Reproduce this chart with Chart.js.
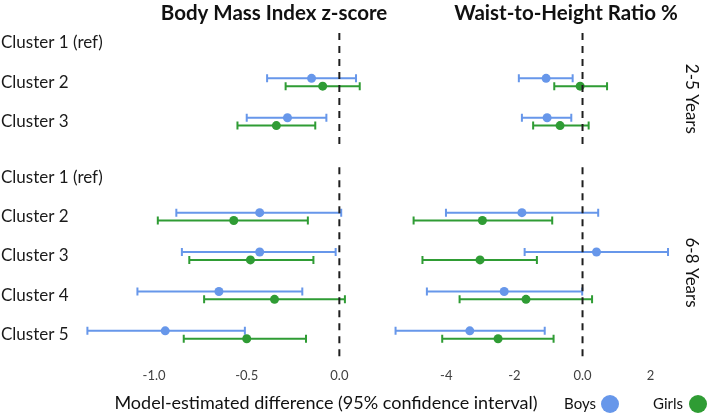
<!DOCTYPE html>
<html>
<head>
<meta charset="utf-8">
<script src="https://cdn.jsdelivr.net/npm/chart.js@4.4.0/dist/chart.umd.min.js"></script>
<style>
  html, body { margin: 0; padding: 0; background: #fff; }
  #wrap { position: relative; width: 709px; height: 415px; }
  #wrap canvas { position: absolute; left: 0; top: 0; }
</style>
</head>
<body>
<div id="wrap">
  <canvas id="bmiChart" width="709" height="415"></canvas>
  <canvas id="whtrChart" width="709" height="415"></canvas>
</div>
<script>
// --- data ---
const ageGroups = ['2-5 Years', '6-8 Years'];
const clusterNames = [
    ['Cluster 1 (ref)', 'Cluster 2', 'Cluster 3'],
    ['Cluster 1 (ref)', 'Cluster 2', 'Cluster 3', 'Cluster 4', 'Cluster 5']
];
const seriesNames = ['Boys', 'Girls'];

// Body Mass Index z-score (null = reference cluster)
const bmiBoysEst  = [null, -0.15, -0.28, null, -0.43, -0.43, -0.65, -0.94];
const bmiBoysLo   = [null, -0.39, -0.50, null, -0.88, -0.85, -1.09, -1.36];
const bmiBoysHi   = [null,  0.09, -0.07, null,  0.01, -0.02, -0.20, -0.51];
const bmiGirlsEst = [null, -0.09, -0.34, null, -0.57, -0.48, -0.35, -0.50];
const bmiGirlsLo  = [null, -0.29, -0.55, null, -0.98, -0.81, -0.73, -0.84];
const bmiGirlsHi  = [null,  0.11, -0.13, null, -0.17, -0.14,  0.03, -0.18];

// Waist-to-Height Ratio %
const whtrBoysEst  = [null, -1.07, -1.04, null, -1.78,  0.41, -2.30, -3.31];
const whtrBoysLo   = [null, -1.87, -1.78, null, -4.01, -1.70, -4.57, -5.49];
const whtrBoysHi   = [null, -0.29, -0.33, null,  0.46,  2.51, -0.01, -1.11];
const whtrGirlsEst = [null, -0.07, -0.66, null, -2.94, -3.01, -1.66, -2.48];
const whtrGirlsLo  = [null, -0.83, -1.45, null, -4.96, -4.70, -3.61, -4.12];
const whtrGirlsHi  = [null,  0.72,  0.18, null, -0.89, -1.34,  0.28, -0.85];

// tick labels
const bmiTicks = [-1.0, -0.5, 0.0];
const whtrTicks = [-4, -2, 0, 2];

// --- layout helpers ---
const BOYS_COLOR = '#6797ea';
const GIRLS_COLOR = '#2f9c34';
const FONT = 'Lato, "Open Sans", sans-serif';
const GROUP_GAP = 0.41;

const rows = [];
let pos = 0;
clusterNames.forEach((names, g) => {
    names.forEach(n => { rows.push({ label: n, y: pos, group: g }); pos += 1; });
    pos += GROUP_GAP;
});

function pointData(est, lo, hi, shift) {
    return rows
        .map((r, i) => est[i] === null ? null : { x: est[i], y: r.y + shift, lo: lo[i], hi: hi[i] })
        .filter(Boolean);
}

function zeroLines() {
    return ageGroups.map((g, gi) => {
        const ys = rows.filter(r => r.group === gi).map(r => r.y);
        return {
            label: 'zero ' + g,
            data: [{ x: 0, y: ys[0] - 0.25 }, { x: 0, y: ys[ys.length - 1] + 0.63 }],
            showLine: true,
            pointRadius: 0,
            borderColor: '#1e1e1e',
            borderWidth: 2,
            borderDash: [7, 6],
            order: 0
        };
    });
}

function series(name, color, est, lo, hi, shift) {
    return {
        label: name,
        isSeries: true,
        data: pointData(est, lo, hi, shift),
        backgroundColor: color,
        borderColor: color,
        pointRadius: 4.5,
        pointBorderWidth: 0,
        barWidth: 2,
        order: 1
    };
}

// horizontal confidence intervals with caps
const errorBars = {
    id: 'errorBars',
    beforeDatasetsDraw(chart) {
        const ctx = chart.ctx;
        const xs = chart.scales.x;
        chart.data.datasets.forEach((ds, di) => {
            if (!ds.isSeries) return;
            const meta = chart.getDatasetMeta(di);
            ctx.save();
            ctx.strokeStyle = ds.borderColor;
            ctx.lineWidth = ds.barWidth;
            meta.data.forEach((el, i) => {
                const raw = ds.data[i];
                const x1 = xs.getPixelForValue(raw.lo);
                const x2 = xs.getPixelForValue(raw.hi);
                const y = el.y;
                ctx.beginPath();
                ctx.moveTo(x1, y); ctx.lineTo(x2, y);
                ctx.moveTo(x1, y - 4); ctx.lineTo(x1, y + 4);
                ctx.moveTo(x2, y - 4); ctx.lineTo(x2, y + 4);
                ctx.stroke();
            });
            ctx.restore();
        });
    }
};

// titles, row labels, group labels, axis title and legend
const panelText = {
    id: 'panelText',
    afterDraw(chart, args, opts) {
        const ctx = chart.ctx;
        const ys = chart.scales.y;
        ctx.save();
        ctx.fillStyle = '#111';
        ctx.textAlign = 'center';
        ctx.textBaseline = 'middle';
        ctx.font = 'bold 20.5px ' + FONT;
        ctx.fillText(opts.title, opts.titleX, 13);

        if (opts.rowLabels) {
            ctx.textAlign = 'left';
            ctx.font = '17px ' + FONT;
            ctx.fillStyle = '#1a1a1a';
            rows.forEach(r => ctx.fillText(r.label, 1, ys.getPixelForValue(r.y)));
        }

        if (opts.extras) {
            ctx.textAlign = 'center';
            ctx.fillStyle = '#111';
            ctx.font = '17px ' + FONT;
            ageGroups.forEach((g, gi) => {
                const gy = rows.filter(r => r.group === gi).map(r => r.y);
                const mid = (gy[0] + gy[gy.length - 1]) / 2 + 0.42;
                ctx.save();
                ctx.translate(691, ys.getPixelForValue(mid));
                ctx.rotate(Math.PI / 2);
                ctx.fillText(g, 0, 0);
                ctx.restore();
            });

            ctx.font = '18px ' + FONT;
            ctx.fillText('Model-estimated difference (95% confidence interval)', 326, 403);

            ctx.font = '15px ' + FONT;
            ctx.textAlign = 'right';
            const legendPos = [[596, 610], [683, 698]];
            const colors = [BOYS_COLOR, GIRLS_COLOR];
            seriesNames.forEach((s, i) => {
                ctx.fillStyle = '#111';
                ctx.fillText(s, legendPos[i][0], 404);
                ctx.fillStyle = colors[i];
                ctx.beginPath();
                ctx.arc(legendPos[i][1], 404, 9, 0, Math.PI * 2);
                ctx.fill();
            });
        }
        ctx.restore();
    }
};

function makeChart(id, cfg) {
    const datasets = [
        ...zeroLines(),
        series(seriesNames[0], BOYS_COLOR, cfg.boys[0], cfg.boys[1], cfg.boys[2], -0.1),
        series(seriesNames[1], GIRLS_COLOR, cfg.girls[0], cfg.girls[1], cfg.girls[2], 0.1)
    ];
    return new Chart(document.getElementById(id), {
        type: 'scatter',
        data: { datasets },
        options: {
            responsive: false,
            animation: false,
            events: [],
            layout: { padding: cfg.padding },
            plugins: {
                legend: { display: false },
                tooltip: { enabled: false },
                panelText: { title: cfg.title, titleX: cfg.titleX, rowLabels: cfg.rowLabels, extras: cfg.extras }
            },
            scales: {
                x: {
                    type: 'linear',
                    min: cfg.min,
                    max: cfg.max,
                    grid: { display: false, drawTicks: false },
                    border: { display: false },
                    ticks: {
                        padding: 8,
                        color: '#404040',
                        font: { family: FONT, size: 13 },
                        callback: cfg.tickFormat
                    },
                    afterBuildTicks: s => { s.ticks = cfg.ticks.map(v => ({ value: v })); },
                    afterFit: s => { s.height = 55; }
                },
                y: {
                    type: 'linear',
                    reverse: true,
                    min: -0.25,
                    max: 8.05,
                    display: false
                }
            }
        },
        plugins: [errorBars, panelText]
    });
}

makeChart('bmiChart', {
    title: 'Body Mass Index z-score',
    titleX: 274,
    rowLabels: true,
    extras: false,
    padding: { left: 80, right: 332.6, top: 33, bottom: 0 },
    min: -1.4,
    max: 0.2,
    ticks: bmiTicks,
    tickFormat: v => Number(v).toFixed(1),
    boys: [bmiBoysEst, bmiBoysLo, bmiBoysHi],
    girls: [bmiGirlsEst, bmiGirlsLo, bmiGirlsHi]
});

makeChart('whtrChart', {
    title: 'Waist-to-Height Ratio %',
    titleX: 566,
    rowLabels: false,
    extras: true,
    padding: { left: 385, right: 24.3, top: 33, bottom: 0 },
    min: -5.8,
    max: 3,
    ticks: whtrTicks,
    tickFormat: v => v === 0 ? '0.0' : String(v),
    boys: [whtrBoysEst, whtrBoysLo, whtrBoysHi],
    girls: [whtrGirlsEst, whtrGirlsLo, whtrGirlsHi]
});
</script>
</body>
</html>
